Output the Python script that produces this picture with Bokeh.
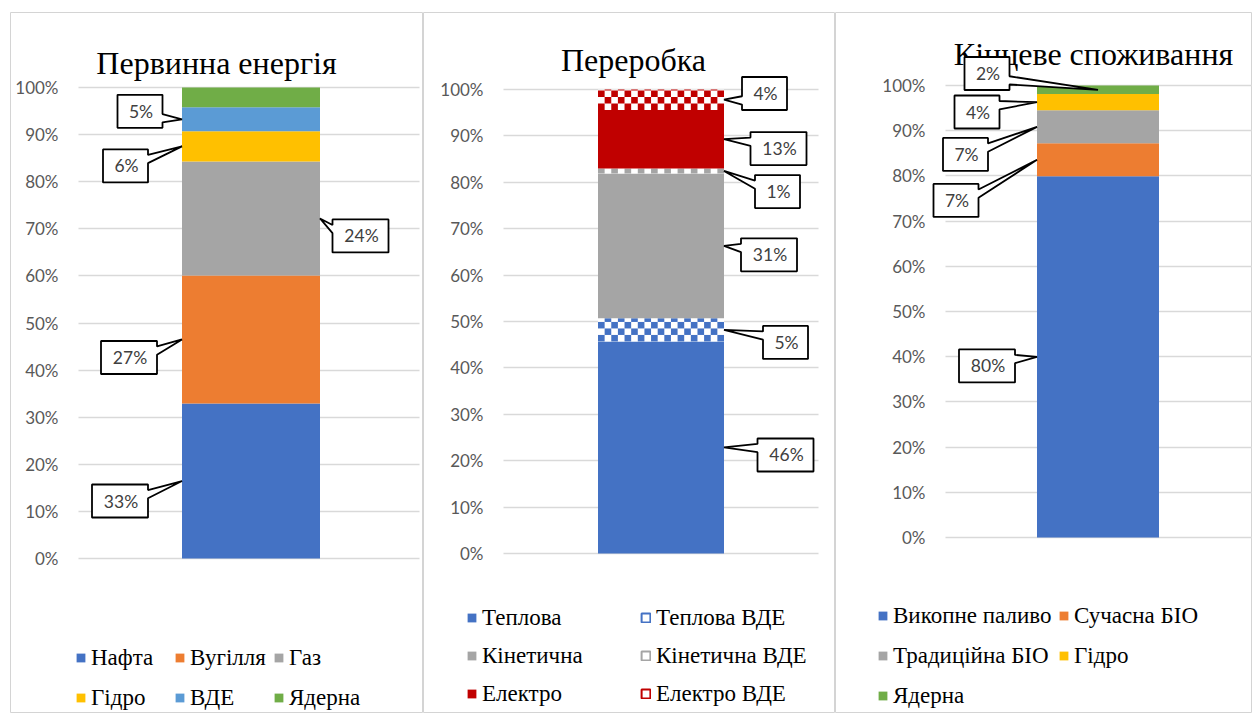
import numpy as np
from bokeh.plotting import figure
from bokeh.layouts import row
from bokeh.models import (Range1d, FixedTicker, NumeralTickFormatter, Label, Grid,
                          PolyAnnotation, Legend, LegendItem, ColumnDataSource)
from bokeh.embed import file_html
from bokeh.resources import INLINE

# ---------------- data ----------------
titles = ["Первинна енергія", "Переробка", "Кінцеве споживання"]

primary_series = ["Нафта", "Вугілля", "Газ", "Гідро", "ВДЕ", "Ядерна"]
primary_values = [32.9, 27.2, 24.2, 6.4, 5.1, 4.2]

conversion_series = ["Теплова", "Теплова ВДЕ", "Кінетична", "Кінетична ВДЕ", "Електро", "Електро ВДЕ"]
conversion_values = [45.7, 5.0, 31.2, 1.1, 12.6, 4.4]

final_series = ["Викопне паливо", "Сучасна БІО", "Традиційна БІО", "Гідро", "Ядерна"]
final_values = [79.9, 7.3, 7.3, 3.6, 1.9]

y_ticks = [0.0, 0.1, 0.2, 0.3, 0.4, 0.5, 0.6, 0.7, 0.8, 0.9, 1.0]

# ---------------- styles ----------------
BLUE, ORANGE, GRAY, GOLD, LBLUE, GREEN, RED = ("#4472C4", "#ED7D31", "#A5A5A5", "#FFC000",
                                              "#5B9BD5", "#70AD47", "#C00000")
SERIF = "Liberation Serif"
SANS = "Lato"
PAGE_H = 713
FRAME_TOP = 12

panels = [
    dict(title=titles[0], series=primary_series, values=primary_values,
         colors=[BLUE, ORANGE, GRAY, GOLD, LBLUE, GREEN], checkered=[False] * 6,
         fig_x=0, fig_w=423, LB=10, GL=78, GR=419, FT=87, FB=558, ux=345,
         title_px=(216, 62),
         callouts=[("left", -62, 20), ("left", -53, 18), ("right", 40.5, 17.5),
                   ("left", -56.5, 19.5), ("left", -42, -8), None],
         legend_px=[(75, 657), (174, 657), (273, 657), (75, 697), (174, 697), (273, 697)]),
    dict(title=titles[1], series=conversion_series, values=conversion_values,
         colors=[BLUE, BLUE, GRAY, GRAY, RED, RED],
         checkered=[False, True, False, True, False, True],
         fig_x=423, fig_w=412, LB=0, GL=503, GR=818, FT=89, FB=553, ux=315,
         title_px=(633, 59),
         callouts=[("right", 61.5, 7.5), ("right", 61.5, 12.6), ("right", 45, 9),
                   ("right", 53.5, 20.6), ("right", 54.5, 9.4), ("right", 40.5, -6.2)],
         legend_px=[(466, 617), (640, 617), (466, 655), (640, 655), (466, 693), (640, 693)]),
    dict(title=titles[2], series=final_series, values=final_values,
         colors=[BLUE, ORANGE, GRAY, GOLD, GREEN], checkered=[False] * 5,
         fig_x=835, fig_w=417, LB=0, GL=945, GR=1252, FT=85, FB=537, ux=305,
         title_px=(1093, 53),
         callouts=[("left", -50, 9), ("left", -81, 40.6), ("left", -71.5, 27.6),
                   ("left", -60, 9.8), ("center", -111, -16.3)],
         legend_px=[(877, 615), (1058, 615), (877, 655), (1058, 655), (877, 695)]),
]

BAR_X = 0.5
BAR_W = 0.4
BOX_H = 33
LEG_ITEM_H = 20
LEG_DY = 3.5
CELL_PX = 6.5
HAS_CROSS_BOUNDS = "cross_bounds" in Grid.properties()


def callout_pts(cx, cy, w, h, ax, ay):
    l, r, t, b = cx - w / 2, cx + w / 2, cy - h / 2, cy + h / 2
    dx, dy = ax - cx, ay - cy
    dq = dx * h / w
    if abs(dy) > abs(dq):
        fx = (7 / 12, 10 / 12) if dx > 0 else (2 / 12, 5 / 12)
        x1, x2 = l + w * fx[0], l + w * fx[1]
        if dy < 0:
            return [(l, t), (x1, t), (ax, ay), (x2, t), (r, t), (r, b), (l, b)]
        return [(l, t), (r, t), (r, b), (x2, b), (ax, ay), (x1, b), (l, b)]
    fy = (7 / 12, 10 / 12) if dy > 0 else (2 / 12, 5 / 12)
    y1, y2 = t + h * fy[0], t + h * fy[1]
    if dx < 0:
        return [(l, t), (r, t), (r, b), (l, b), (l, y2), (ax, ay), (l, y1)]
    return [(l, t), (r, t), (r, y1), (ax, ay), (r, y2), (r, b), (l, b)]


def checker_cells(x0, x1, y0, y1, ncols, ch):
    cw = (x1 - x0) / ncols
    L, R, B, T = [], [], [], []
    nrows = int(np.ceil((y1 - y0) / ch - 1e-9))
    for r in range(nrows):
        b = y0 + r * ch
        t = min(y0 + (r + 1) * ch, y1)
        for c in range(ncols):
            if (r + c) % 2 == 0:
                L.append(x0 + c * cw)
                R.append(x0 + (c + 1) * cw)
                B.append(b)
                T.append(t)
    return dict(left=L, right=R, bottom=B, top=T)


def make_panel(cfg):
    GL, GR, FT, FB, ux = cfg["GL"], cfg["GR"], cfg["FT"], cfg["FB"], cfg["ux"]
    uy = FB - FT
    fig_x, fig_w, LB = cfg["fig_x"], cfg["fig_w"], cfg["LB"]
    F0 = fig_x + LB
    FR = fig_x + fig_w
    x_rng = Range1d((F0 - GL) / ux, (FR - GL) / ux)
    y_rng = Range1d(-(PAGE_H - FB) / uy, 1 + (FT - FRAME_TOP) / uy)
    p = figure(width=fig_w, height=PAGE_H, x_range=x_rng, y_range=y_rng,
               output_backend="svg", toolbar_location=None, title=None,
               x_axis_location=None,
               min_border_left=LB, min_border_right=0,
               min_border_top=FRAME_TOP, min_border_bottom=0)
    p.outline_line_color = "#d4d4d4"
    p.outline_line_width = 1
    p.background_fill_color = "white"
    p.border_fill_color = "white"
    p.xgrid.visible = False

    ticker = FixedTicker(ticks=y_ticks)
    p.yaxis.ticker = ticker
    p.ygrid.ticker = ticker
    p.ygrid.grid_line_color = "#d9d9d9"
    p.ygrid.grid_line_width = 1.5
    if HAS_CROSS_BOUNDS:
        p.ygrid.cross_bounds = (0.0, (GR - GL) / ux)
    else:
        p.ygrid.visible = False
        p.segment(x0=[0.0] * len(y_ticks), x1=[(GR - GL) / ux] * len(y_ticks),
                  y0=y_ticks, y1=y_ticks, line_color="#d9d9d9", line_width=1.5)

    p.yaxis.formatter = NumeralTickFormatter(format="0%")
    p.yaxis.axis_line_color = None
    p.yaxis.major_tick_line_color = None
    p.yaxis.minor_tick_line_color = None
    p.yaxis.major_tick_out = 0
    p.yaxis.major_tick_in = 0
    p.yaxis.major_label_standoff = int(round(F0 - (GL - 20)))
    p.yaxis.major_label_text_font = SANS
    p.yaxis.major_label_text_font_size = "17px"
    p.yaxis.major_label_text_color = "#595959"

    def to_data(px, py):
        return (px - GL) / ux, (FB - py) / uy

    def to_px(x, y):
        return GL + x * ux, FB - y * uy

    vals = np.array(cfg["values"], dtype=float) / 100.0
    tops = np.cumsum(vals)
    bottoms = tops - vals
    legend_renderers = []
    x_left, x_right = BAR_X - BAR_W / 2, BAR_X + BAR_W / 2
    ncols = int(round(BAR_W * ux / CELL_PX))
    for i, name in enumerate(cfg["series"]):
        col = cfg["colors"][i]
        src = ColumnDataSource(dict(x=[BAR_X], bottom=[bottoms[i]], top=[tops[i]]))
        if cfg["checkered"][i]:
            p.vbar(x="x", bottom="bottom", top="top", width=BAR_W, source=src,
                   fill_color="white", line_color=None)
            cells = ColumnDataSource(checker_cells(x_left, x_right, bottoms[i], tops[i],
                                                   ncols, CELL_PX / uy))
            p.quad(left="left", right="right", bottom="bottom", top="top", source=cells,
                   fill_color=col, line_color=None)
            # legend key only (hidden in the plot): outlined pattern swatch like Excel's
            proxy = p.vbar(x="x", bottom="bottom", top="top", width=BAR_W, source=src,
                           fill_color="white", line_color=col, line_width=2)
            proxy.visible = False
            legend_renderers.append(proxy)
        else:
            r = p.vbar(x="x", bottom="bottom", top="top", width=BAR_W, source=src,
                       fill_color=col, line_color=None)
            legend_renderers.append(r)

    # title
    tx, ty = to_data(*cfg["title_px"])
    p.add_layout(Label(x=tx, y=ty, text=cfg["title"], text_align="center",
                       text_baseline="alphabetic", text_font=SERIF,
                       text_font_size="32px", text_color="black"))

    # callouts
    for i, co in enumerate(cfg["callouts"]):
        if co is None:
            continue
        side, ox, oy = co
        mid = (bottoms[i] + tops[i]) / 2
        xa = {"left": x_left, "right": x_right, "center": BAR_X}[side]
        ax, ay = to_px(xa, mid)
        text = f"{vals[i] * 100:.0f}%"
        w = 34 + 11 * (len(text) - 1)
        cx, cy = ax + ox, ay + oy
        pts = callout_pts(cx, cy, w, BOX_H, ax, ay)
        xs, ys = zip(*[to_data(a, b) for a, b in pts])
        p.add_layout(PolyAnnotation(xs=list(xs), ys=list(ys), fill_color="white", fill_alpha=1,
                                    line_color="black", line_alpha=1, line_width=1.8))
        lx, ly = to_data(cx + 1, cy)
        p.add_layout(Label(x=lx, y=ly, text=text, text_align="center", text_baseline="middle",
                           text_font=SANS, text_font_size="17.5px", text_color="#404040"))

    # legend: one legend per item, placed like Excel's grid
    for i, name in enumerate(cfg["series"]):
        lx, lyc = cfg["legend_px"][i]
        vx = lx - F0
        vy = PAGE_H - (lyc + LEG_ITEM_H / 2 + LEG_DY)
        leg = Legend(items=[LegendItem(label=name, renderers=[legend_renderers[i]])],
                     location=(vx, vy), orientation="vertical",
                     border_line_color=None, background_fill_alpha=0,
                     padding=0, margin=0, spacing=0,
                     glyph_width=11, glyph_height=11, label_standoff=5,
                     label_height=LEG_ITEM_H,
                     label_text_font=SERIF, label_text_font_size="23px",
                     label_text_color="black")
        p.add_layout(leg)
    return p


figs = [make_panel(c) for c in panels]
layout = row(*figs)
open("out.html", "w").write(file_html(layout, INLINE))
